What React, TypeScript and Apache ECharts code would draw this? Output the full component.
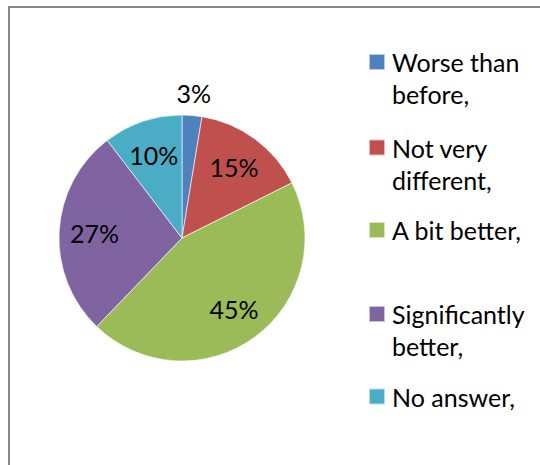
import React, { useEffect, useRef } from "react";
import * as echarts from "echarts";

const categories = [
  "Worse than before,",
  "Not very different,",
  "A bit better,",
  "Significantly better,",
  "No answer,",
];
const shares = [2.6, 15.0, 44.6, 27.4, 10.4];
const colors = ["#4F81BD", "#C0504D", "#9BBB59", "#8064A2", "#4BACC6"];

const FONT = "Lato, 'Open Sans', sans-serif";
const FS = 25;
const LH = 32;
const CX = 182;
const CY = 238;
const R = 123;

// legend layout: icon centre y and number of wrapped lines
const legendIconCenters = [62, 147.5, 230, 314, 396.5];
const legendLines = [2, 2, 1, 2, 1];

export default function App() {
  const ref = useRef<HTMLDivElement>(null);
  useEffect(() => {
    if (!ref.current) return;
    const chart = echarts.init(ref.current, null, { renderer: "svg" });
    const legends = categories.map((name, i) => {
      const twoLines = legendLines[i] === 2;
      const boxH = (twoLines ? 3 : 1) * LH;
      return {
        orient: "vertical",
        left: 368,
        top: legendIconCenters[i] - boxH / 2,
        padding: 0,
        itemGap: 0,
        itemWidth: 16,
        itemHeight: 16,
        icon: "rect",
        selectedMode: false,
        data: [name],
        // a leading empty line keeps the marker level with the first text line
        formatter: (n: string) => (twoLines ? "\n" + n : n),
        textStyle: {
          fontFamily: FONT,
          fontSize: FS,
          lineHeight: LH,
          color: "#000",
          width: 150,
          overflow: "break",
          padding: [0, 0, 0, 2],
        },
      };
    });
    chart.setOption({
      animation: false,
      backgroundColor: "#ffffff",
      color: colors,
      graphic: [
        {
          type: "rect",
          shape: { x: 9, y: 7, width: 700, height: 700 },
          style: { fill: "none", stroke: "#878787", lineWidth: 2 },
          silent: true,
          z: -10,
        },
      ],
      legend: legends,
      series: [
        {
          type: "pie",
          center: [CX, CY],
          radius: R,
          startAngle: 90,
          clockwise: true,
          percentPrecision: 0,
          avoidLabelOverlap: false,
          itemStyle: { borderColor: "rgba(255,255,255,0.6)", borderWidth: 1 },
          label: {
            show: true,
            position: "inside",
            formatter: "{d}%",
            fontFamily: FONT,
            fontSize: FS,
            color: "#000",
          },
          labelLine: { show: false },
          labelLayout: (params: any) => {
            const r = params.labelRect;
            const lx = r.x + r.width / 2;
            const ly = r.y + r.height / 2;
            const k = params.dataIndex === 0 ? 2.25 : 1.36;
            return { dx: (lx - CX) * (k - 1), dy: (ly - CY) * (k - 1) };
          },
          emphasis: { disabled: true },
          data: categories.map((name, i) => ({ name, value: shares[i] })),
        },
      ],
    });
    return () => chart.dispose();
  }, []);
  return (
    <div
      ref={ref}
      style={{ position: "absolute", left: 0, top: 0, width: 540, height: 465 }}
    />
  );
}
